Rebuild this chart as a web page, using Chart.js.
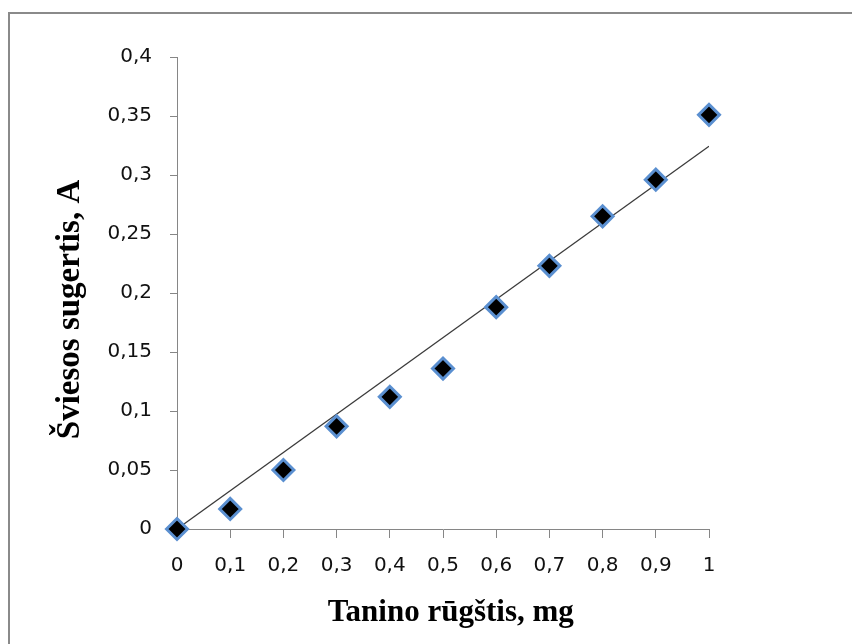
<!DOCTYPE html>
<html>
<head>
<meta charset="utf-8">
<script src="https://cdn.jsdelivr.net/npm/chart.js@4"></script>
<style>
  html, body { margin: 0; padding: 0; background: #fff; overflow: hidden; }
  #wrap { position: relative; width: 852px; height: 644px; }
  #frame {
    position: absolute; left: 8px; top: 12px; width: 900px; height: 700px;
    border-left: 2px solid #8a8a8a; border-top: 2px solid #8a8a8a;
    pointer-events: none;
  }
</style>
</head>
<body>
<div id="wrap">
  <canvas id="chart" width="852" height="644"></canvas>
  <div id="frame"></div>
</div>
<script>
// duomenys
const xValues = [0, 0.1, 0.2, 0.3, 0.4, 0.5, 0.6, 0.7, 0.8, 0.9, 1];
const yValues = [0, 0.017, 0.05, 0.087, 0.112, 0.136, 0.188, 0.223, 0.265, 0.296, 0.351];
const xTickLabels = ['0', '0,1', '0,2', '0,3', '0,4', '0,5', '0,6', '0,7', '0,8', '0,9', '1'];
const yTickLabels = ['0', '0,05', '0,1', '0,15', '0,2', '0,25', '0,3', '0,35', '0,4'];
const xTitle = 'Tanino rūgštis, mg';
const yTitle = 'Šviesos sugertis, A';

const points = xValues.map((x, i) => ({ x: x, y: yValues[i] }));

// linear trendline through the origin (least squares)
let sxy = 0, sxx = 0;
xValues.forEach((x, i) => { sxy += x * yValues[i]; sxx += x * x; });
const slope = sxy / sxx;
const xMin = xValues[0], xMax = xValues[xValues.length - 1];
const trend = [{ x: xMin, y: slope * xMin }, { x: xMax, y: slope * xMax }];

const axisColor = '#868686';
const tickFont = { family: 'DejaVu Sans', size: 20 };

new Chart(document.getElementById('chart'), {
  type: 'scatter',
  data: {
    datasets: [
      {
        label: 'Matavimai',
        data: points,
        pointStyle: 'rectRot',
        pointRadius: 10.5,
        pointHoverRadius: 10.5,
        backgroundColor: '#000000',
        borderColor: '#5a8fd0',
        borderWidth: 3,
        clip: false,
        order: 0
      },
      {
        label: 'Tiesinė',
        data: trend,
        showLine: true,
        pointRadius: 0,
        borderColor: '#3a3a3a',
        borderWidth: 1.3,
        order: 1
      }
    ]
  },
  options: {
    responsive: false,
    animation: false,
    layout: { padding: { left: 0, right: 143, top: 57, bottom: 0 } },
    plugins: {
      legend: { display: false },
      tooltip: { enabled: false }
    },
    scales: {
      x: {
        type: 'linear',
        min: 0,
        max: 1,
        ticks: {
          stepSize: 0.1,
          color: '#111',
          font: tickFont,
          padding: 16,
          maxRotation: 0,
          autoSkip: false,
          callback: (v, i) => xTickLabels[i]
        },
        grid: { drawOnChartArea: false, color: axisColor, tickLength: 9, tickColor: axisColor },
        border: { display: true, color: axisColor, width: 1 },
        title: {
          display: true,
          text: '  ' + xTitle,
          color: '#000',
          font: { family: 'Liberation Serif', size: 31, weight: 'bold' },
          padding: { top: 0, bottom: 12 }
        },
        afterFit: (scale) => { scale.height = 115; }
      },
      y: {
        type: 'linear',
        min: 0,
        max: 0.4,
        ticks: {
          stepSize: 0.05,
          color: '#111',
          font: tickFont,
          padding: 18,
          autoSkip: false,
          callback: (v, i) => yTickLabels[i]
        },
        grid: { drawOnChartArea: false, color: axisColor, tickLength: 7, tickColor: axisColor },
        border: { display: true, color: axisColor, width: 1 },
        title: {
          display: true,
          text: yTitle + '    ',
          color: '#000',
          font: { family: 'Liberation Serif', size: 33, weight: 'bold' },
          padding: { top: 51, bottom: 0 }
        },
        afterFit: (scale) => { scale.width = 177; }
      }
    }
  }
});
</script>
</body>
</html>
